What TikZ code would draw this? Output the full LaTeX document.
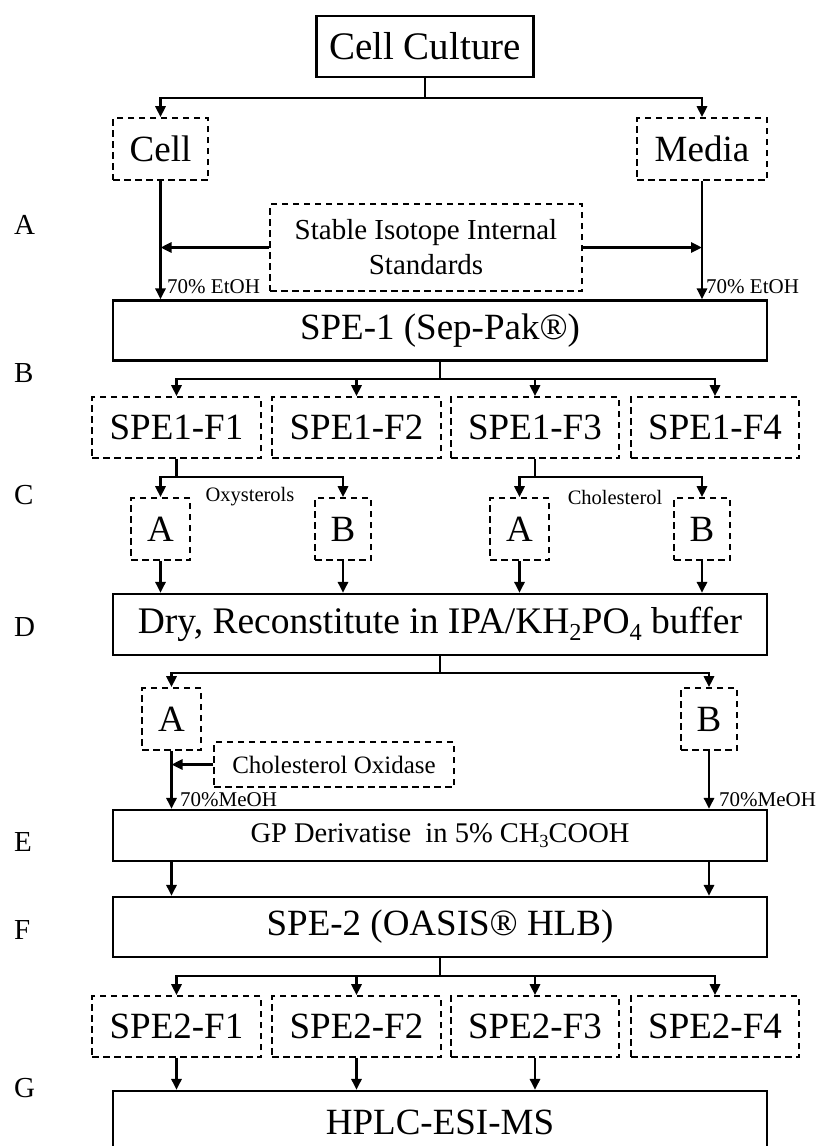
\documentclass[tikz,border=0pt]{standalone}
\usepackage{fontspec}
\setmainfont{Liberation Serif}
\usepackage{graphicx}
\usetikzlibrary{arrows.meta,calc}
\newcommand{\subs}[1]{\raisebox{-0.4ex}{\scalebox{0.65}{#1}}}
\newcommand{\bigf}{\fontsize{37}{40}\selectfont}
\newcommand{\midf}{\fontsize{29}{35}\selectfont}
\newcommand{\lblf}{\fontsize{21}{24}\selectfont}
\begin{document}
\begin{tikzpicture}[x=1pt,y=-1pt,
  solidbox/.style={draw, line width=2.2pt, inner sep=0pt, font=\bigf},
  dashbox/.style={draw, line width=1.6pt, dash pattern=on 6.5pt off 4.5pt, inner sep=0pt, font=\bigf},
  conn/.style={line width=2.8pt},
  arr/.style={conn, -{Triangle[length=11pt,width=10pt]}},
  lbl/.style={inner sep=0pt, font=\lblf},
  side/.style={inner sep=0pt, anchor=west, font=\fontsize{29}{32}\selectfont}]
\useasboundingbox (0,0) rectangle (820,1146);
\clip (0,0) rectangle (820,1146);

% side letters
\node[side] (lA) at (14,225) {A};
\node[side] (lB) at (14,373) {B};
\node[side] (lC) at (14,495) {C};
\node[side] (lD) at (14,627) {D};
\node[side] (lE) at (14,842) {E};
\node[side] (lF) at (14,930) {F};
\node[side] (lG) at (14,1088) {G};

% nodes
\node[solidbox, minimum width=217pt, minimum height=61pt, font=\fontsize{39}{42}\selectfont] (cc) at (425,46.5) {Cell Culture};
\node[dashbox, minimum width=95pt, minimum height=62pt] (cell) at (160.5,149) {Cell};
\node[dashbox, minimum width=130pt, minimum height=62pt] (media) at (702,149) {Media};
\node[dashbox, minimum width=312pt, minimum height=87pt, font=\midf, align=center] (sis) at (426,247.5) {Stable Isotope Internal\\Standards};
\node[solidbox, minimum width=654pt, minimum height=60pt] (spe1) at (440,330.5) {SPE-1 (Sep-Pak®)};

\node[dashbox, minimum width=169pt, minimum height=61pt] (f11) at (176.5,427.5) {SPE1-F1};
\node[dashbox, minimum width=169pt, minimum height=61pt] (f12) at (356.5,427.5) {SPE1-F2};
\node[dashbox, minimum width=168pt, minimum height=61pt] (f13) at (535,427.5) {SPE1-F3};
\node[dashbox, minimum width=168pt, minimum height=61pt] (f14) at (715,427.5) {SPE1-F4};

\node[dashbox, minimum width=59pt, minimum height=62pt] (a1) at (160.5,529) {A};
\node[dashbox, minimum width=56pt, minimum height=62pt] (b1) at (343,529) {B};
\node[dashbox, minimum width=59pt, minimum height=62pt] (a2) at (519.5,529) {A};
\node[dashbox, minimum width=56pt, minimum height=62pt] (b2) at (702,529) {B};

\node[solidbox, minimum width=654pt, minimum height=61pt, font=\fontsize{37.5}{40}\selectfont] (dry) at (440,624.5) {Dry, Reconstitute in IPA/KH\subs{2}PO\subs{4} buffer};

\node[dashbox, minimum width=59pt, minimum height=62pt] (a3) at (171.5,719) {A};
\node[dashbox, minimum width=56pt, minimum height=62pt] (b3) at (709,719) {B};
\node[dashbox, minimum width=240pt, minimum height=45pt, font=\fontsize{25}{28}\selectfont] (cox) at (334,764.5) {Cholesterol Oxidase};

\node[solidbox, minimum width=654pt, minimum height=51pt, font=\fontsize{28.5}{32}\selectfont] (gp) at (440,835.5) {GP Derivatise\ \ in 5\% CH\subs{3}COOH};
\node[solidbox, minimum width=654pt, minimum height=60pt] (spe2) at (440,927) {SPE-2 (OASIS® HLB)};

\node[dashbox, minimum width=169pt, minimum height=61pt] (f21) at (176.5,1026.5) {SPE2-F1};
\node[dashbox, minimum width=169pt, minimum height=61pt] (f22) at (356.5,1026.5) {SPE2-F2};
\node[dashbox, minimum width=168pt, minimum height=61pt] (f23) at (535,1026.5) {SPE2-F3};
\node[dashbox, minimum width=168pt, minimum height=61pt] (f24) at (715,1026.5) {SPE2-F4};

\node[solidbox, minimum width=654pt, minimum height=62pt] (hplc) at (440,1122) {HPLC-ESI-MS};

% labels
\node[lbl, anchor=west] (e1) at (167,287) {70\% EtOH};
\node[lbl, anchor=west] (e2) at (706,287) {70\% EtOH};
\node[lbl, font=\fontsize{20.5}{24}\selectfont] (oxy) at (250,497) {Oxysterols};
\node[lbl, font=\fontsize{20.5}{24}\selectfont] (chol) at (615,497) {Cholesterol};
\node[lbl, anchor=west] (m1) at (180,800) {70\%MeOH};
\node[lbl, anchor=west] (m2) at (719,800) {70\%MeOH};

% junctions
\coordinate (j0) at (425,98);
\coordinate (j1) at (440,379);
\coordinate (j2) at (176.5,477);
\coordinate (j3) at (535,477);
\coordinate (j4) at (440,673);
\coordinate (j5) at (440,976);

% connectors
\draw[conn] (cc.south) -- (j0);
\draw[arr] (j0) -| (cell.north);
\draw[arr] (j0) -| (media.north);
\draw[arr] (cell.south) -- (cell.south |- spe1.north);
\draw[arr] (media.south) -- (media.south |- spe1.north);
\draw[arr] (sis.west) -- (sis.west -| cell.south);
\draw[arr] (sis.east) -- (sis.east -| media.south);

\draw[conn] (spe1.south) -- (j1);
\foreach \n in {f11,f12,f13,f14} { \draw[arr] (j1) -| (\n.north); }

\draw[conn] (f11.south) -- (j2);
\draw[arr] (j2) -| (a1.north);
\draw[arr] (j2) -| (b1.north);
\draw[conn] (f13.south) -- (j3);
\draw[arr] (j3) -| (a2.north);
\draw[arr] (j3) -| (b2.north);
\foreach \n in {a1,b1,a2,b2} { \draw[arr] (\n.south) -- (\n.south |- dry.north); }

\draw[conn] (dry.south) -- (j4);
\draw[arr] (j4) -| (a3.north);
\draw[arr] (j4) -| (b3.north);
\draw[arr] (cox.west) -- (cox.west -| a3.south);
\draw[arr] (a3.south) -- (a3.south |- gp.north);
\draw[arr] (b3.south) -- (b3.south |- gp.north);
\draw[arr] (gp.south -| a3.south) -- (spe2.north -| a3.south);
\draw[arr] (gp.south -| b3.south) -- (spe2.north -| b3.south);

\draw[conn] (spe2.south) -- (j5);
\foreach \n in {f21,f22,f23,f24} { \draw[arr] (j5) -| (\n.north); }
\foreach \n in {f21,f22,f23} { \draw[arr] (\n.south) -- (\n.south |- hplc.north); }
\end{tikzpicture}
\end{document}
